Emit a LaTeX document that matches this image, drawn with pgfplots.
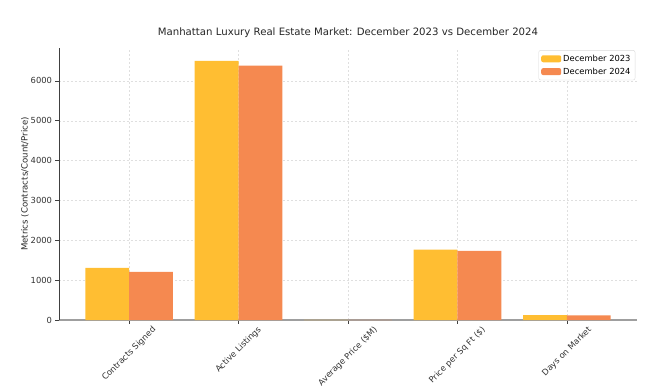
\documentclass[border=0pt]{standalone}
\usepackage{pgfplots}
\pgfplotsset{compat=1.18}
\usepackage{fontspec}
\setmainfont{DejaVu Sans}
\definecolor{c23}{RGB}{255,190,50}
\definecolor{c24}{RGB}{245,137,80}
\begin{document}
\begin{tikzpicture}
\begin{axis}[
  name=ax,
  scale only axis, width=578bp, height=272bp,
  xmin=-0.64, xmax=4.64, ymin=0, ymax=6825,
  ybar=0pt, bar width=0.4,
  axis x line*=bottom, axis y line*=left,
  x axis line style={gray!75, line width=1.2bp},
  y axis line style={black!75, line width=0.6bp},
  tick align=outside, major tick length=3.5bp,
  tick style={black!75, line width=0.6bp},
  xtick={0,1,2,3,4},
  xticklabels={{\rotatebox{45}{Contracts Signed}},{\rotatebox{45}{Active Listings}},{\rotatebox{45}{Average Price (\$M)}},{\rotatebox{45}{Price per Sq Ft (\$)}},{\rotatebox{45}{Days on Market}}},
  xticklabel style={anchor=north, font=\fontsize{8.4}{10}\selectfont, text=black!80, inner sep=2bp},
  ytick={0,1000,2000,3000,4000,5000,6000},
  yticklabel style={font=\fontsize{8.4}{10}\selectfont, text=black!80},
  /pgf/number format/1000 sep={},
  /pgf/number format/assume math mode=true,
  grid=major, major grid style={dash pattern=on 2bp off 2bp, gray!25, line width=0.4bp},
  ylabel={Metrics (Contracts/Count/Price)},
  ylabel style={font=\fontsize{8.6}{10}\selectfont, text=black!85, yshift=-5bp},
  title={Manhattan Luxury Real Estate Market: December 2023 vs December 2024},
  title style={font=\fontsize{10.2}{12}\selectfont, text=black!85, at={(0.5,1)}, anchor=south, yshift=1bp},
  legend style={at={(0.997,0.992)}, anchor=north east, draw=gray!30, rounded corners=2pt, font=\fontsize{8.4}{10}\selectfont, row sep=1bp, inner sep=2.5bp},
  legend cell align=left,
  legend image code/.code={\fill[#1] (0bp,-3.5bp) rectangle (20bp,3.5bp);},
]
\addplot[fill=c23, draw=none, bar shift=-0.2] coordinates {(0,1305) (1,6500) (2,5.2) (3,1765) (4,125)};
\addplot[fill=c24, draw=none, bar shift=0.2] coordinates {(0,1205) (1,6385) (2,5.5) (3,1732) (4,118)};
\legend{December 2023, December 2024}
\end{axis}
\path (ax.south west) ++(-59bp,-71bp) rectangle ++(651bp,391bp);
\end{tikzpicture}
\end{document}
